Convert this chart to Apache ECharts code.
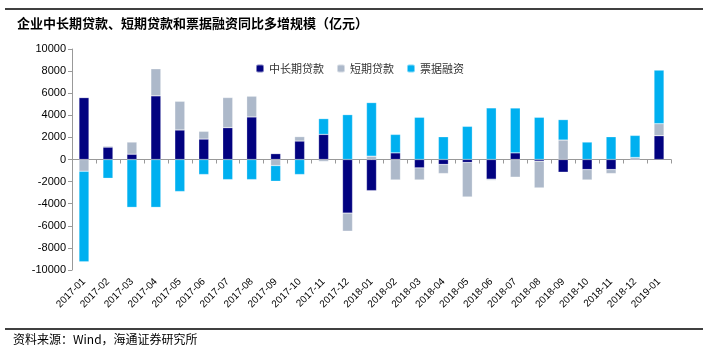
<!DOCTYPE html>
<html>
<head>
<meta charset="utf-8">
<script src="https://cdn.jsdelivr.net/npm/echarts@6/dist/echarts.min.js"></script>
<style>
html, body { margin: 0; padding: 0; background: #fff; }
#chart { width: 708px; height: 352px; }
</style>
</head>
<body>
<div id="chart"></div>
<script>
var months = ['2017-01','2017-02','2017-03','2017-04','2017-05','2017-06','2017-07','2017-08','2017-09','2017-10','2017-11','2017-12',
  '2018-01','2018-02','2018-03','2018-04','2018-05','2018-06','2018-07','2018-08','2018-09','2018-10','2018-11','2018-12','2019-01'];
var longLoans = [5600, 1120, 480, 5760, 2670, 1850, 2880, 3850, 530, 1670, 2270, -4850,
  -2820, 600, -760, -450, -270, -1780, 600, -150, -1150, -910, -910, -60, 2150];
var shortLoans = [-1060, 100, 1100, 2450, 2600, 700, 2730, 1880, -550, 400, -180, -1640,
  300, -1850, -1090, -820, -3120, -110, -1600, -2420, 1760, -940, -360, 180, 1090];
var billFinancing = [-8200, -1700, -4330, -4330, -2900, -1360, -1820, -1820, -1420, -1360, 1430, 4060,
  4850, 1670, 3820, 2060, 3000, 4670, 4060, 3820, 1850, 1580, 2060, 2000, 4850];

var dom = document.getElementById('chart');
var myChart = echarts.init(dom, null, { renderer: 'canvas' });

var cjk = '"Noto Sans CJK SC", sans-serif';
var latin = 'Arial, "Liberation Sans", sans-serif';

function barSeries(name, data, color) {
  return {
    name: name,
    type: 'bar',
    stack: 'total',
    barWidth: 10,
    data: data,
    itemStyle: { color: color, borderColor: 'rgba(255,255,255,0.5)', borderWidth: 0.5 }
  };
}

var option = {
  animation: false,
  title: {
    text: '企业中长期贷款、短期贷款和票据融资同比多增规模（亿元）',
    left: 12,
    top: 12,
    textStyle: { fontFamily: cjk, fontSize: 13, fontWeight: 'bold', color: '#000' }
  },
  legend: {
    top: 58,
    left: 250,
    itemWidth: 8,
    itemHeight: 8,
    itemGap: 12,
    textStyle: { fontFamily: cjk, fontSize: 11, color: '#333' },
    data: ['中长期贷款', '短期贷款', '票据融资']
  },
  grid: { left: 72, right: 37, top: 49, bottom: 82 },
  xAxis: {
    type: 'category',
    data: months,
    axisLine: { onZero: true, lineStyle: { color: '#999' } },
    axisTick: { show: true, length: 4, lineStyle: { color: '#999' } },
    axisLabel: {
      interval: 0,
      rotate: 45,
      fontSize: 10,
      color: '#000',
      margin: 10,
      fontFamily: latin
    }
  },
  yAxis: {
    type: 'value',
    min: -10000,
    max: 10000,
    interval: 2000,
    axisLine: { show: true, lineStyle: { color: '#999' } },
    axisTick: { show: true, length: 4, lineStyle: { color: '#999' } },
    splitLine: { show: false },
    axisLabel: {
      fontSize: 11,
      color: '#000',
      margin: 6,
      fontFamily: latin,
      formatter: function (v) { return String(v); }
    }
  },
  graphic: [
    { type: 'line', shape: { x1: 5, y1: 9, x2: 703, y2: 9 }, style: { stroke: '#000', lineWidth: 1.5 } },
    { type: 'line', shape: { x1: 5, y1: 329, x2: 703, y2: 329 }, style: { stroke: '#000', lineWidth: 1.5 } },
    {
      type: 'text', left: 13, top: 333,
      style: { text: '资料来源：Wind，海通证券研究所', font: '12px "Noto Sans CJK SC", sans-serif', fill: '#000' }
    }
  ],
  series: [
    barSeries('中长期贷款', longLoans, '#020280'),
    barSeries('短期贷款', shortLoans, '#adb9ca'),
    barSeries('票据融资', billFinancing, '#00b0f0')
  ]
};

if (option && typeof option === 'object') {
  myChart.setOption(option);
}

window.addEventListener('resize', myChart.resize);
</script>
</body>
</html>
